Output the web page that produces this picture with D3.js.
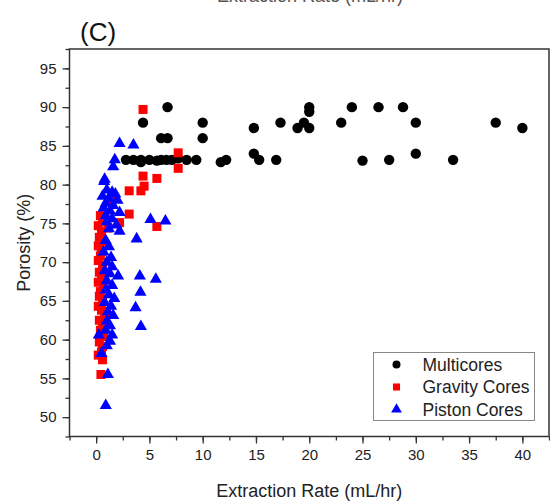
<!DOCTYPE html>
<html>
<head>
<meta charset="utf-8">
<script src="https://cdn.jsdelivr.net/npm/d3@7"></script>
<style>
  body { margin: 0; background: #fff; }
  svg { display: block; font-family: Arial, 'Liberation Sans', sans-serif; }
  .axis text { font-size: 15px; fill: #222; }
  .axis line { stroke: #333; stroke-width: 1.3; }
  .axis path { display: none; }
</style>
</head>
<body>
<svg id="chart" width="550" height="502"></svg>
<script>
// values: [extraction rate (mL/hr), porosity (%)]
const multicores = [
  [2.8, 83.2], [3.5, 83.2], [4.2, 83.2], [4.2, 82.9], [5.0, 83.2], [5.7, 83.1],
  [6.1, 83.2], [6.6, 83.2], [7.1, 83.2], [7.7, 83.4], [8.5, 83.2], [9.4, 83.2],
  [11.7, 82.9], [12.2, 83.2], [15.3, 83.2], [16.9, 83.2], [25, 83.1], [27.5, 83.2],
  [33.5, 83.2], [4.4, 88], [6.7, 90], [6.1, 86], [6.7, 86], [10, 88], [10, 86],
  [14.8, 87.3], [14.8, 84], [17.3, 88], [18.9, 87.3], [19.5, 88], [20, 90],
  [20, 89.4], [20, 87.3], [23, 88], [24, 90], [26.5, 90], [28.8, 90], [30, 88],
  [30, 84], [37.5, 88], [40, 87.3]
];

const gravityCores = [
  [4.4, 89.7], [7.7, 84.1], [7.7, 82.1], [4.4, 81.1], [5.7, 80.8], [4.5, 79.8],
  [4.2, 79.2], [3.1, 79.2], [3.1, 76.2], [5.7, 74.6], [1.4, 78.0], [1.5, 78.6],
  [2.2, 75.1], [1.1, 74.4], [0.4, 76.0], [0.6, 75.3], [0.2, 74.7], [0.5, 73.9],
  [0.3, 73.2], [0.7, 72.6], [0.2, 72.1], [0.5, 71.4], [0.4, 70.8], [0.2, 70.2],
  [0.6, 69.5], [0.3, 68.7], [0.5, 68.1], [0.2, 67.4], [0.7, 66.9], [0.4, 66.2],
  [0.3, 65.6], [0.6, 65.0], [0.2, 64.3], [0.5, 63.8], [0.8, 63.1], [0.3, 62.5],
  [0.6, 61.9], [0.4, 61.2], [0.7, 60.4], [0.3, 59.7], [0.6, 59.1], [0.5, 58.4],
  [0.2, 58.0], [0.6, 57.4], [0.45, 55.5]
];

const pistonCores = [
  [2.2, 85.3], [3.5, 85.1], [1.75, 83.2], [1.6, 82.3], [0.8, 80.7], [0.75, 80.4],
  [1.0, 79.3], [1.5, 79.0], [1.8, 78.8], [0.6, 78.5], [1.2, 78.2], [2.0, 78.0],
  [0.9, 77.6], [1.6, 77.3], [0.7, 77.0], [1.3, 76.6], [2.2, 76.4], [0.9, 76.0],
  [1.5, 75.6], [1.0, 75.2], [1.9, 74.8], [1.2, 74.3], [2.2, 74.0], [5.1, 75.5],
  [6.5, 75.3], [3.8, 73.0], [0.9, 72.8], [1.2, 72.0], [0.7, 71.3], [1.4, 70.6],
  [1.0, 70.0], [1.5, 69.4], [0.8, 68.9], [1.3, 68.5], [2.06, 68.2], [1.0, 67.6],
  [1.5, 67.0], [0.9, 66.4], [1.2, 65.8], [1.7, 65.3], [0.8, 64.8], [1.4, 64.3],
  [1.1, 63.6], [1.6, 63.1], [1.0, 62.4], [1.3, 61.8], [0.9, 61.2], [1.5, 60.6],
  [4.1, 68.2], [5.6, 67.8], [4.16, 66.1], [3.7, 64.1], [4.2, 61.7], [0.25, 60.6],
  [0.5, 58.2], [1.1, 55.5], [0.9, 51.5], [1.3, 59.8], [1.0, 59.2]
];

const xTicks = [0, 5, 10, 15, 20, 25, 30, 35, 40];
const yTicks = [50, 55, 60, 65, 70, 75, 80, 85, 90, 95];
const legendLabels = ['Multicores', 'Gravity Cores', 'Piston Cores'];

const margin = { top: 49, right: 1, bottom: 65.5, left: 69.5 };
const width = 550, height = 502;
const w = width - margin.left - margin.right;
const h = height - margin.top - margin.bottom;

const svg = d3.select('#chart');

// leftover title of the panel above, cut off by the top edge
svg.append('text')
  .attr('x', 310).attr('y', 2)
  .attr('text-anchor', 'middle')
  .style('font-size', '18px').style('fill', '#555')
  .text('Extraction Rate (mL/hr)');

svg.append('text')
  .attr('x', 80).attr('y', 41)
  .style('font-size', '26px').style('fill', '#111')
  .text('(C)');

const g = svg.append('g')
  .attr('transform', 'translate(' + margin.left + ',' + margin.top + ')');

const x = d3.scaleLinear().domain([-2.5, 42.5]).range([0, w]);
const y = d3.scaleLinear().domain([47.5, 97.5]).range([h, 0]);

// minor ticks
g.append('g').attr('class', 'axis')
  .attr('transform', 'translate(0,' + h + ')')
  .call(d3.axisBottom(x).tickValues(d3.range(-2.5, 42.6, 2.5)).tickSize(4).tickSizeOuter(0).tickFormat(''));
g.append('g').attr('class', 'axis')
  .call(d3.axisLeft(y).tickValues(d3.range(47.5, 97.6, 2.5)).tickSize(4).tickSizeOuter(0).tickFormat(''));

// major ticks
g.append('g').attr('class', 'axis')
  .attr('transform', 'translate(0,' + h + ')')
  .call(d3.axisBottom(x).tickValues(xTicks).tickSize(7).tickPadding(6).tickSizeOuter(0));
g.append('g').attr('class', 'axis')
  .call(d3.axisLeft(y).tickValues(yTicks).tickSize(7).tickPadding(6).tickSizeOuter(0));

g.append('rect')
  .attr('width', w).attr('height', h)
  .attr('fill', 'none').attr('stroke', '#333').attr('stroke-width', 1.5);

const plot = g.append('g');

plot.selectAll('.mc')
  .data(multicores)
  .enter().append('circle')
  .attr('class', 'mc')
  .attr('cx', function(d) { return x(d[0]); })
  .attr('cy', function(d) { return y(d[1]); })
  .attr('r', 5.2)
  .attr('fill', '#000');

plot.selectAll('.gc')
  .data(gravityCores)
  .enter().append('rect')
  .attr('class', 'gc')
  .attr('x', function(d) { return x(d[0]) - 4.5; })
  .attr('y', function(d) { return y(d[1]) - 4.5; })
  .attr('width', 9).attr('height', 9)
  .attr('fill', '#f00');

const tri = d3.symbol().type(d3.symbolTriangle).size(64);
plot.selectAll('.pc')
  .data(pistonCores)
  .enter().append('path')
  .attr('class', 'pc')
  .attr('d', tri)
  .attr('transform', function(d) { return 'translate(' + x(d[0]) + ',' + y(d[1]) + ')'; })
  .attr('fill', '#00f');

// legend
const legend = svg.append('g').attr('transform', 'translate(373.5,352.5)');
legend.append('rect')
  .attr('width', 161).attr('height', 68)
  .attr('fill', '#fff').attr('stroke', '#888').attr('stroke-width', 1);

const rows = legend.selectAll('.row')
  .data(legendLabels)
  .enter().append('g')
  .attr('transform', function(d, i) { return 'translate(0,' + (12 + i * 22.5) + ')'; });

rows.append('path')
  .attr('d', function(d, i) {
    const t = [d3.symbolCircle, d3.symbolSquare, d3.symbolTriangle][i];
    return d3.symbol().type(t).size([50, 50, 50][i])();
  })
  .attr('transform', 'translate(23,0)')
  .attr('fill', function(d, i) { return ['#000', '#f00', '#00f'][i]; });

rows.append('text')
  .attr('x', 49).attr('dy', '0.35em')
  .style('font-size', '17.5px').style('fill', '#222')
  .text(function(d) { return d; });

// axis titles
svg.append('text')
  .attr('x', margin.left + w / 2).attr('y', 497)
  .attr('text-anchor', 'middle')
  .style('font-size', '18px').style('fill', '#222')
  .text('Extraction Rate (mL/hr)');

svg.append('text')
  .attr('transform', 'translate(30,' + (margin.top + h / 2) + ') rotate(-90)')
  .attr('text-anchor', 'middle')
  .style('font-size', '18px').style('fill', '#222')
  .text('Porosity (%)');
</script>
</body>
</html>
